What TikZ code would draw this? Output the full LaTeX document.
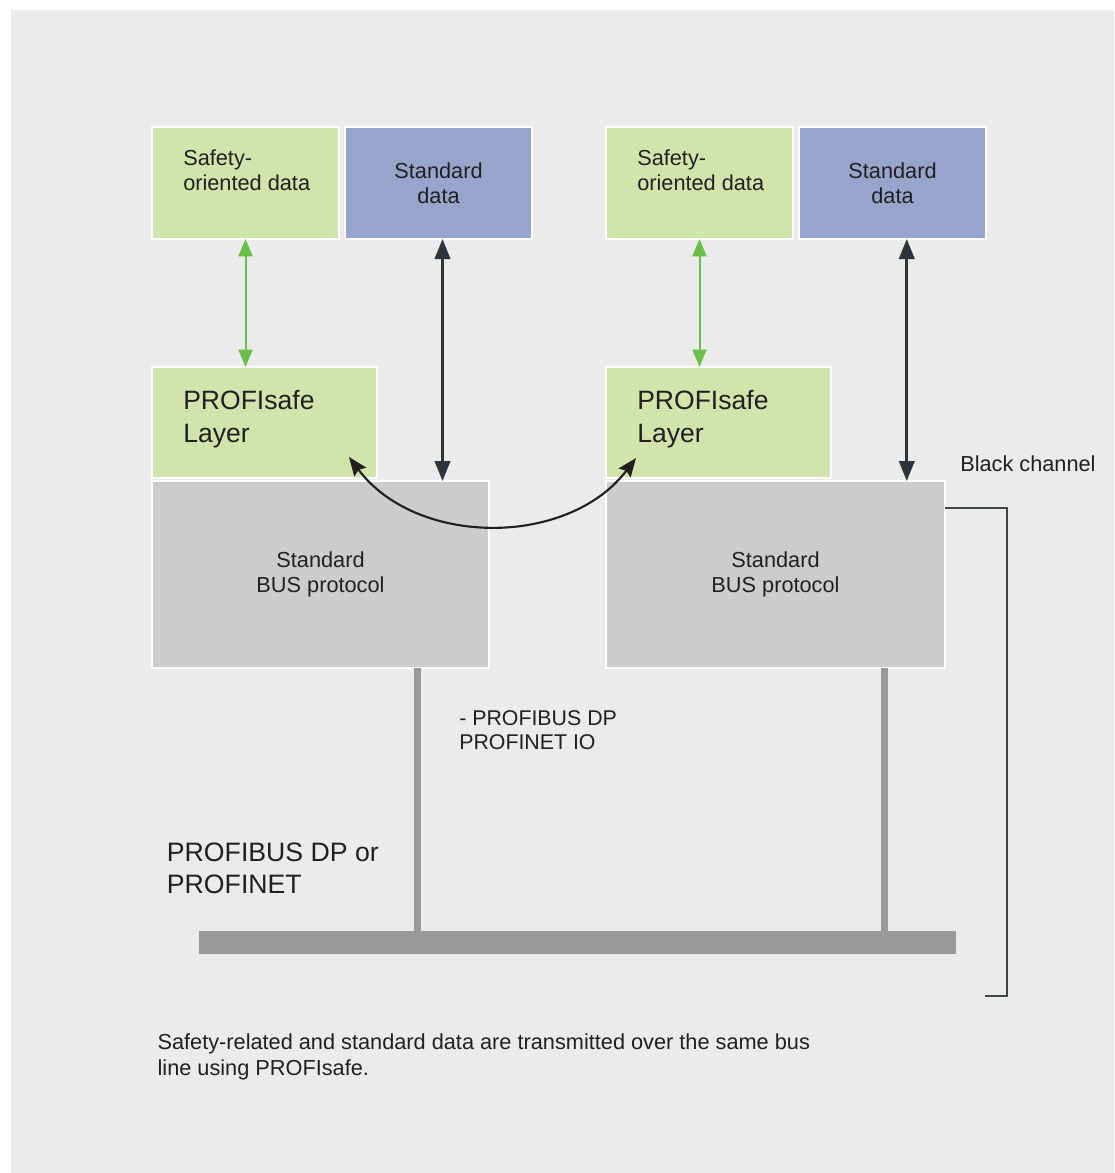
\documentclass[tikz,border=0pt]{standalone}
\usepackage{fontspec}
\setmainfont{Liberation Sans}
\usetikzlibrary{arrows.meta,positioning}
\definecolor{bg}{HTML}{EBEBEB}
\definecolor{safegreen}{HTML}{D0E4AB}
\definecolor{stdblue}{HTML}{97A5CD}
\definecolor{protogrey}{HTML}{CCCCCC}
\definecolor{busgrey}{HTML}{999999}
\definecolor{ink}{HTML}{231F20}
\definecolor{greenarrow}{HTML}{6ABF4B}
\definecolor{darkarrow}{HTML}{2D353C}
\definecolor{slate}{HTML}{3D474C}

\begin{document}
\begin{tikzpicture}[x=1pt,y=1pt, every node/.style={text=ink,font=\fontsize{16.3}{18.6}\selectfont}, box/.style={draw=white,line width=1.1pt,inner sep=0pt,outer sep=0pt,anchor=north west}, safe/.style={box,fill=safegreen,minimum width=140.25pt,minimum height=84pt}, std/.style={box,fill=stdblue,minimum width=140.25pt,minimum height=84pt,align=center}, layer/.style={box,fill=safegreen,minimum width=168.75pt,minimum height=83.25pt}, proto/.style={box,fill=protogrey,minimum width=252.75pt,minimum height=140.25pt,align=center}, txt/.style={inner sep=0pt,align=left,anchor=north west}, big/.style={font=\fontsize{19.9}{24.5}\selectfont}, busbar/.style={fill=busgrey,inner sep=0pt,outer sep=0pt,minimum width=567.75pt,minimum height=17.25pt,anchor=north west}, garrow/.style={{Triangle[length=13pt,width=10.5pt]}-{Triangle[length=13pt,width=10.5pt]},line width=1.5pt,draw=greenarrow}, darrow/.style={{Triangle[length=15pt,width=11.5pt]}-{Triangle[length=15pt,width=11.5pt]},line width=2.2pt,draw=darkarrow}, curved/.style={{Stealth[length=14pt,width=11pt,inset=2pt]}-{Stealth[length=14pt,width=11pt,inset=2pt]},line width=1.6pt,draw=ink}, drop/.style={line width=5.25pt,draw=busgrey}, bracket/.style={line width=1.5pt,draw=slate}]
\fill[white] (0,0) rectangle (835.5,-879.75);
\fill[bg] (8.25,-7.5) rectangle (835.5,-879.75);
\useasboundingbox (0,0) rectangle (835.5,-879.75);
% left station
\node[safe] (lsafety) at (114,-95.25) {};
\node[std,right=4.5pt of lsafety] (lstd) {Standard\\data};
\node[layer,below=96pt of lsafety.south west,anchor=north west] (llayer) {};
\node[proto,below=2.25pt of llayer.south west,anchor=north west] (lbus) {Standard\\BUS protocol};
\node[txt,below right=17.25pt and 23.25pt of lsafety.north west] (lsafetytxt) {Safety-\\oriented data};
\node[txt,big,below right=17.25pt and 23.25pt of llayer.north west] (llayertxt) {PROFIsafe\\Layer};
% right station
\node[safe] (rsafety) at (454.5,-95.25) {};
\node[std,right=4.5pt of rsafety] (rstd) {Standard\\data};
\node[layer,below=96pt of rsafety.south west,anchor=north west] (rlayer) {};
\node[proto,minimum width=254.25pt,below=2.25pt of rlayer.south west,anchor=north west] (rbus) {Standard\\BUS protocol};
\node[txt,below right=17.25pt and 23.25pt of rsafety.north west] (rsafetytxt) {Safety-\\oriented data};
\node[txt,big,below right=17.25pt and 23.25pt of rlayer.north west] (rlayertxt) {PROFIsafe\\Layer};
% bus
\node[busbar] (bus) at (149.25,-698.25) {};
\coordinate (ldrop) at ([xshift=73.1pt]lbus.south);
\coordinate (rdrop) at ([xshift=81.8pt]rbus.south);
\draw[drop] (ldrop) -- (ldrop |- bus.north);
\draw[drop] (rdrop) -- (rdrop |- bus.north);
% arrows
\draw[garrow] (lsafety.south) -- (lsafety.south |- llayer.north);
\draw[garrow] (rsafety.south) -- (rsafety.south |- rlayer.north);
\coordinate (lstdfoot) at ([xshift=3pt]lstd.south);
\coordinate (rstdfoot) at ([xshift=10.7pt]rstd.south);
\draw[darrow] (lstdfoot) -- (lstdfoot |- lbus.north);
\draw[darrow] (rstdfoot) -- (rstdfoot |- rbus.north);
\draw[curved] ([shift={(-21pt,15.75pt)}]llayer.south east) to[bend right=53] ([shift={(22.5pt,15pt)}]rlayer.south west);
% black channel
\coordinate (brend) at (738.75,-747);
\draw[bracket] ([yshift=-20.25pt]rbus.north east) -- ++(46.5pt,0) |- (brend);
\node[txt] (blackch) at (720,-341.25) {Black channel};
% labels
\node[txt,font=\fontsize{16}{18.3}\selectfont] (buslbl) at (344.25,-532.5) {- PROFIBUS DP\\PROFINET IO};
\node[txt,font=\fontsize{20}{24.4}\selectfont] (netlbl) at (125,-631.75) {PROFIBUS DP or\\PROFINET};
\node[txt,font=\fontsize{16.3}{19.5}\selectfont] (caption) at (118,-774.75) {Safety-related and standard data are transmitted over the same bus\\line using PROFIsafe.};
\end{tikzpicture}
\end{document}
